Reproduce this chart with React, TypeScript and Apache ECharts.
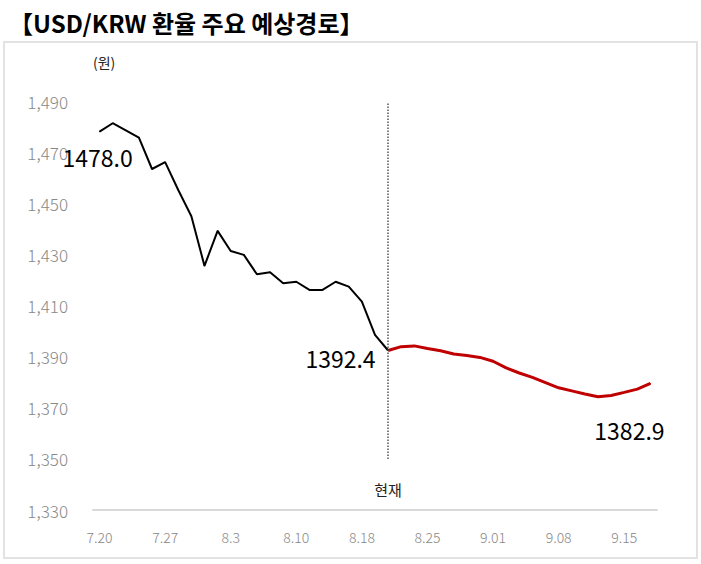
import React, { useEffect, useRef } from "react";
import * as echarts from "echarts";

// 영업일 기준 날짜 (8.15 휴일 제외)
const dates = [
  "7.20", "7.21", "7.24", "7.25", "7.26", "7.27", "7.28", "7.31", "8.1", "8.2",
  "8.3", "8.4", "8.7", "8.8", "8.9", "8.10", "8.11", "8.14", "8.16", "8.17",
  "8.18", "8.21", "8.22", "8.23", "8.24", "8.25", "8.28", "8.29", "8.30", "8.31",
  "9.01", "9.04", "9.05", "9.06", "9.07", "9.08", "9.11", "9.12", "9.13", "9.14",
  "9.15", "9.18", "9.19",
];

// 실제 환율
const actual = [
  1478.0, 1481.3, 1478.5, 1475.7, 1463.4, 1466.1, 1455.2, 1444.9, 1425.5, 1439.2,
  1431.3, 1429.8, 1422.2, 1423.0, 1418.7, 1419.3, 1416.1, 1416.1, 1419.3, 1417.4,
  1411.5, 1398.5, 1392.4,
];

// 예상경로 (현재부터)
const forecast = [
  1392.4, 1393.9, 1394.2, 1393.2, 1392.3, 1391.0, 1390.4, 1389.7, 1388.2, 1385.6,
  1383.6, 1381.9, 1379.8, 1377.8, 1376.6, 1375.4, 1374.3, 1374.8, 1376.0, 1377.3,
  1379.5,
];

const forecastLabel = "1382.9";
const currentLineTop = 1489;
const currentLineBottom = 1350;

const App = () => {
  const chartRef = useRef(null);

  useEffect(() => {
    if (!chartRef.current) return;
    const chart = echarts.init(chartRef.current, null, { renderer: "svg" });
    const cur = actual.length - 1;

    const actualData = actual.map((v, i) => {
      if (i === 0) {
        return {
          value: v,
          label: {
            show: true,
            position: "bottom",
            distance: 13,
            offset: [-2, 0],
            formatter: v.toFixed(1),
          },
        };
      }
      if (i === cur) {
        return {
          value: v,
          label: {
            show: true,
            position: "left",
            distance: 12,
            offset: [0, 8],
            formatter: v.toFixed(1),
          },
        };
      }
      return v;
    });

    const forecastData: any[] = dates.map(() => null);
    forecast.forEach((v, i) => {
      const idx = cur + i;
      forecastData[idx] =
        i === forecast.length - 1
          ? {
              value: v,
              label: {
                show: true,
                position: "bottom",
                offset: [-21, 30],
                formatter: forecastLabel,
              },
            }
          : v;
    });

    const font = "'Noto Sans CJK KR', 'Noto Sans', sans-serif";

    chart.setOption({
      animation: false,
      textStyle: { fontFamily: font },
      title: {
        text: "【USD/KRW 환율 주요 예상경로】",
        left: 4,
        top: 5,
        textStyle: { fontSize: 24, fontWeight: "bold", color: "#000", fontFamily: font },
      },
      graphic: [
        {
          type: "rect",
          z: -1,
          shape: { x: 4, y: 42, width: 693, height: 516 },
          style: { fill: "none", stroke: "#e2e2e2", lineWidth: 2 },
        },
      ],
      grid: { left: 93, right: 44, top: 101, bottom: 54 },
      xAxis: {
        type: "category",
        data: dates,
        boundaryGap: true,
        axisLine: { lineStyle: { color: "#d9d9d9", width: 2 } },
        axisTick: { show: false },
        axisLabel: {
          interval: 4,
          color: "#888",
          fontSize: 14,
          margin: 20,
          fontWeight: 300,
        },
      },
      yAxis: {
        type: "value",
        min: 1330,
        max: 1490,
        interval: 20,
        name: "(원)",
        nameGap: 32,
        nameTextStyle: { color: "#222", fontSize: 14, align: "left" },
        axisLine: { show: false },
        axisTick: { show: false },
        splitLine: { show: false },
        axisLabel: {
          color: "#888",
          fontSize: 17,
          margin: 25,
          fontWeight: 300,
          formatter: (v: number) => v.toLocaleString("en-US"),
        },
      },
      series: [
        {
          name: "실제",
          type: "line",
          data: actualData,
          showSymbol: true,
          showAllSymbol: true,
          symbol: "circle",
          symbolSize: 1,
          itemStyle: { color: "#000" },
          lineStyle: { color: "#000", width: 2 },
          label: { color: "#000", fontSize: 23 },
          markLine: {
            silent: true,
            symbol: "none",
            lineStyle: { color: "#555", type: "dotted", width: 1.5 },
            label: {
              show: true,
              position: "end",
              distance: 23,
              formatter: "현재",
              color: "#222",
              fontSize: 15,
            },
            data: [
              [
                { coord: [dates[cur], currentLineTop] },
                { coord: [dates[cur], currentLineBottom] },
              ],
            ],
          },
          z: 3,
        },
        {
          name: "예상",
          type: "line",
          data: forecastData,
          showSymbol: true,
          showAllSymbol: true,
          symbol: "circle",
          symbolSize: 1,
          itemStyle: { color: "#c00000" },
          lineStyle: { color: "#c00000", width: 3 },
          label: { color: "#000", fontSize: 23 },
          z: 2,
        },
      ],
    });

    return () => {
      chart.dispose();
    };
  }, []);

  return (
    <div
      ref={chartRef}
      style={{ position: "fixed", left: 0, top: 0, width: "701px", height: "564px", background: "#fff" }}
    />
  );
};

export default App;
